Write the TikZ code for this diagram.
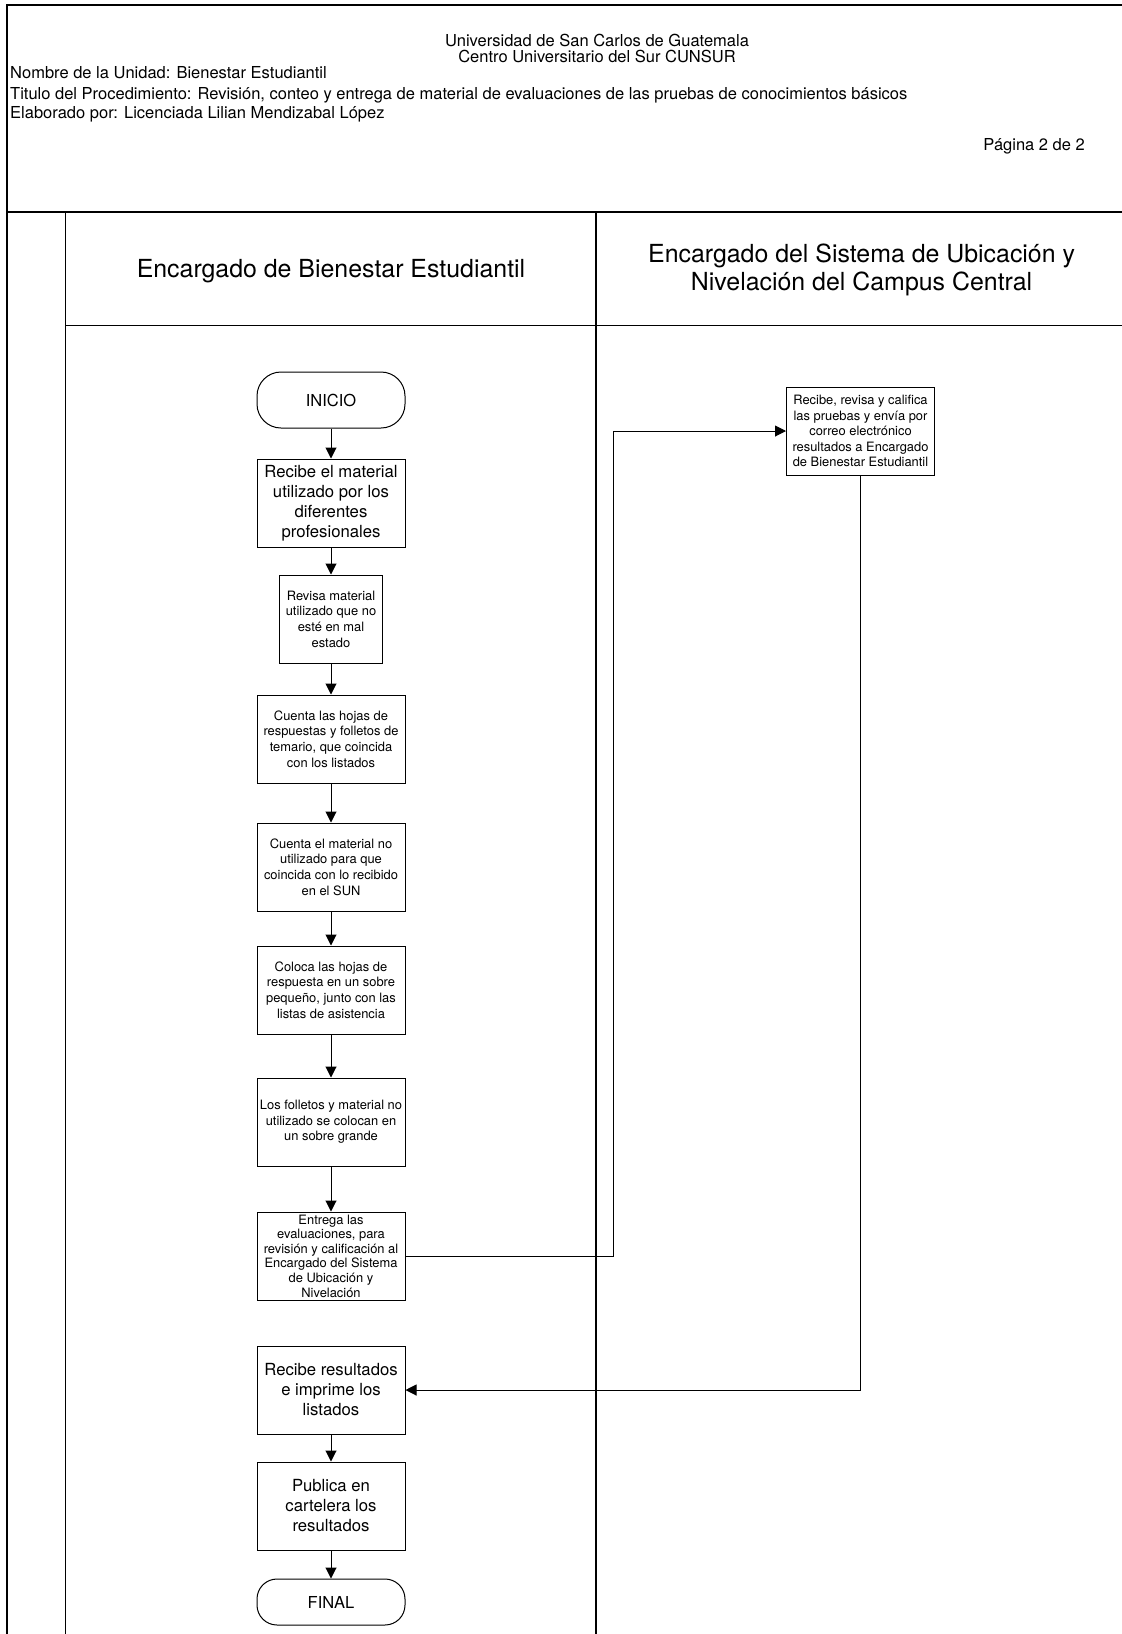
\documentclass[tikz,border=0pt]{standalone}
\usepackage{fontspec}
\setmainfont{TeX Gyre Heros}
\usetikzlibrary{arrows.meta}
\begin{document}
\begin{tikzpicture}[x=1pt,y=-1pt,
  frame/.style={line width=1.3pt},
  proc/.style={draw,line width=1pt,align=center,inner sep=0pt,minimum width=148pt,minimum height=88pt},
  small/.style={font=\fontsize{12.9}{15.6}\selectfont},
  big/.style={font=\fontsize{16.7}{20}\selectfont},
  term/.style={draw,line width=1pt,rounded corners=24pt,minimum width=148pt,minimum height=56pt,font=\fontsize{16.5}{20}\selectfont},
  arr/.style={line width=1pt,-{Triangle[length=11pt,width=11pt]}},
  hdr/.style={font=\fontsize{16.5}{20}\selectfont,inner sep=0pt},
  lanetitle/.style={font=\fontsize{24.9}{28}\selectfont,align=center}]
\useasboundingbox (0,0) rectangle (1122,1634);
% header frame
\draw[frame] (7,5) rectangle (1130,211.5);
\draw[line width=2pt] (7,211.5) -- (1130,211.5);
\draw[frame] (7,211.5) -- (7,1640);
\draw[frame] (65.5,211.5) -- (65.5,1640);
\draw[frame] (596,211.5) -- (596,1640);
\draw[frame] (65.5,325.5) -- (1130,325.5);
% header texts
\node[hdr] (uni) at (597,40.5) {Universidad de San Carlos de Guatemala};
\node[hdr] (cen) at (597,56.5) {Centro Universitario del Sur CUNSUR};
\node[hdr,anchor=west] (nom) at (10,73) {Nombre de la Unidad: Bienestar Estudiantil};
\node[hdr,anchor=west] (tit) at (10,95) {Titulo del Procedimiento: Revisión, conteo y entrega de material de evaluaciones de las pruebas de conocimientos básicos};
\node[hdr,anchor=west] (ela) at (10,114) {Elaborado por: Licenciada Lilian Mendizabal López};
\node[hdr,anchor=east] (pag) at (1085,146.5) {Página 2 de 2};
% lane titles
\node[lanetitle] (l1) at (331,271) {Encargado de Bienestar Estudiantil};
\node[lanetitle] (l2) at (861.6,270) {Encargado del Sistema de Ubicación y\\Nivelación del Campus Central};
% nodes
\node[term] (ini) at (331,400) {INICIO};
\node[proc,big] (b1) at (331,503) {Recibe el material\\utilizado por los\\diferentes\\profesionales};
\node[proc,small,minimum width=103pt] (b2) at (331,619) {Revisa material\\utilizado que no\\esté en mal\\estado};
\node[proc,small] (b3) at (331,739) {Cuenta las hojas de\\respuestas y folletos de\\temario, que coincida\\con los listados};
\node[proc,small] (b4) at (331,867) {Cuenta el material no\\utilizado para que\\coincida con lo recibido\\en el SUN};
\node[proc,small] (b5) at (331,990) {Coloca las hojas de\\respuesta en un sobre\\pequeño, junto con las\\listas de asistencia};
\node[proc,small] (b6) at (331,1122) {Los folletos y material no\\utilizado se colocan en\\un sobre grande};
\node[proc,font=\fontsize{12.9}{14.6}\selectfont] (b7) at (331,1256) {Entrega las\\evaluaciones, para\\revisión y calificación al\\Encargado del Sistema\\de Ubicación y\\Nivelación};
\node[proc,big] (b8) at (331,1390) {Recibe resultados\\e imprime los\\listados};
\node[proc,big] (b9) at (331,1506) {Publica en\\cartelera los\\resultados};
\node[term,minimum height=46pt,rounded corners=20pt] (fin) at (331,1602) {FINAL};
\node[proc,small] (r) at (860.5,431) {Recibe, revisa y califica\\las pruebas y envía por\\correo electrónico\\resultados a Encargado\\de Bienestar Estudiantil};
% connectors
\draw[arr] (ini) -- (b1);
\draw[arr] (b1) -- (b2);
\draw[arr] (b2) -- (b3);
\draw[arr] (b3) -- (b4);
\draw[arr] (b4) -- (b5);
\draw[arr] (b5) -- (b6);
\draw[arr] (b6) -- (b7);
\draw[arr] (b8) -- (b9);
\draw[arr] (b9) -- (fin);
\coordinate (c1) at (613.6,1256);
\draw[arr] (b7.east) -- (c1) |- (r.west);
\draw[arr] (r.south) |- (b8.east);
\end{tikzpicture}
\end{document}
